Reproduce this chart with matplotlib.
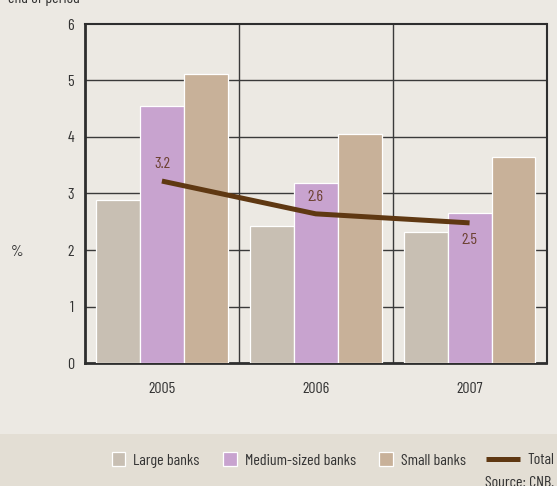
import numpy as np
import matplotlib
matplotlib.use('Agg')
import matplotlib.pyplot as plt
from matplotlib.patches import Rectangle, Patch
from matplotlib.lines import Line2D
from matplotlib.legend_handler import HandlerPatch

plt.rcParams['font.family'] = ['Barlow Condensed', 'DejaVu Sans']
plt.rcParams['font.size'] = 11.5
plt.rcParams['text.color'] = '#333333'

years = ['2005', '2006', '2007']
large = [2.88, 2.42, 2.31]
medium = [4.55, 3.19, 2.66]
small = [5.11, 4.06, 3.65]
total = [3.22, 2.64, 2.48]

series_names = ['Large banks', 'Medium-sized banks', 'Small banks']
series_colors = ['#c8bfb3', '#c8a3cf', '#c8b199']
line_color = '#5f3812'
bg = '#ece9e3'
fs = 11.5

fig = plt.figure(figsize=(5.57, 4.86), dpi=100, facecolor=bg)
ax = fig.add_axes([85 / 557, 1 - 363 / 486, 461.5 / 557, 339 / 486])
ax.set_facecolor(bg)

# legend strip along the bottom
fig.patches.append(Rectangle((0, 0), 1, 1 - 434 / 486, transform=fig.transFigure,
                             facecolor='#e3ded4', edgecolor='none', zorder=0))

x = np.arange(len(years))
w = 0.285
for k, (vals, col) in enumerate(zip([large, medium, small], series_colors)):
    ax.bar(x + (k - 1) * w, vals, width=w, color=col, edgecolor='white',
           linewidth=0.9, zorder=3)

ax.plot(x, total, color=line_color, linewidth=3.6, solid_capstyle='butt', zorder=4)
offsets = [12, 12, -12]
for xi, v, dy in zip(x, total, offsets):
    ax.annotate(f'{v:.1f}', (xi, v), xytext=(0, dy), textcoords='offset points',
                ha='center', va='center', color='#6b4030', fontsize=fs, zorder=5)

ax.set_xlim(-0.5, 2.5)
ax.set_ylim(0, 6)
ax.set_yticks(range(0, 7))
ax.set_xticks(x)
ax.set_xticklabels(years)
ax.tick_params(axis='both', length=0, labelsize=fs, colors='#333333')
ax.tick_params(axis='y', pad=8)
ax.tick_params(axis='x', pad=14)

for yv in range(1, 6):
    ax.axhline(yv, color='#3a3a3a', linewidth=1.0, zorder=1)
for xv in [0.5, 1.5]:
    ax.axvline(xv, color='#3a3a3a', linewidth=1.0, zorder=1)

for side in ['left', 'bottom']:
    ax.spines[side].set_linewidth(2.0)
    ax.spines[side].set_color('#2e2e2e')
for side in ['top', 'right']:
    ax.spines[side].set_linewidth(1.5)
    ax.spines[side].set_color('#2e2e2e')

fig.text(11 / 557, 1 - 252 / 486, '%', ha='left', va='center', fontsize=fs)
fig.text(8 / 557, 1 - 2.5 / 486, 'end of period', ha='left', va='baseline', fontsize=fs)


def square_patch(legend, orig_handle, xdescent, ydescent, width, height, fontsize):
    # small square pushed to the right end of the handle box
    return Rectangle((width - height - xdescent, -ydescent), height, height)


legend_y = 1 - 460 / 486
bar_handles = [Patch(facecolor=c, edgecolor='white', linewidth=0.9) for c in series_colors]
fig.legend(bar_handles, series_names, loc='center right',
           bbox_to_anchor=(466 / 557, legend_y), ncol=3, frameon=False,
           fontsize=fs, handlelength=2.32, handleheight=0.95, handletextpad=0.5,
           columnspacing=0.0, borderpad=0, borderaxespad=0,
           handler_map={Patch: HandlerPatch(patch_func=square_patch)})

line_handle = Line2D([], [], color=line_color, linewidth=3.6, solid_capstyle='butt')
fig.legend([line_handle], ['Total'], loc='center right',
           bbox_to_anchor=(554 / 557, legend_y), frameon=False,
           fontsize=fs, handlelength=2.13, handletextpad=0.44,
           borderpad=0, borderaxespad=0)

fig.text(554 / 557, 1 - 483 / 486, 'Source: CNB.', ha='right', va='center', fontsize=fs)

fig.savefig('out.png', dpi=100, facecolor=bg)
